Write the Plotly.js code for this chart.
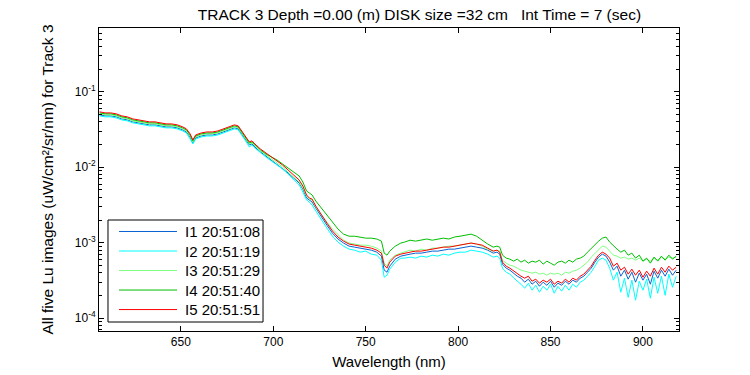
<!DOCTYPE html>
<html>
<head>
<meta charset="utf-8">
<script src="https://cdn.plot.ly/plotly-3.0.1.min.js"></script>
<style>html,body{margin:0;padding:0;background:#fff;}#chart{width:750px;height:375px;}</style>
</head>
<body>
<div id="chart"></div>
<script>
const wavelength = [
  606,609,612,615,618,621,624,627,630,633,636,639,642,645,648,651,
  653,655,656.5,658,
  661,664,667,670,673,676,679,
  681,683,685,687,688.5,690,
  693,696,699,702,705,708,711,714,
  716,718,719.5,721,723,
  726,729,732,735,738,741,744,747,750,753,756,
  758.5,760,761.5,763,
  766,769,
  771,774,777,780,783,786,789,792,795,798,801,804,807,810,813,816,819,
  821,822.5,824,826,828,
  830,832,834,836,838,840,842,844,846,848,850,852,854,856,858,860,862,864,866,868,870,
  872,874,876,878,880,882,884,886,888,890,892,894,896,898,900,902,904,906,908,910,912,914,916,918
];

const I1 = [
  0.0495,0.0480,0.0480,0.0466,0.0438,0.0425,0.0400,0.0388,0.0376,0.0365,0.0365,0.0354,0.0343,0.0343,0.0333,0.0313,
  0.0294,0.0252,0.0210,0.0245,
  0.0260,0.0268,0.0268,0.0277,0.0294,0.0313,0.0333,
  0.0323,0.0277,0.0230,0.0198,0.0204,0.0186,
  0.0160,0.0141,0.0125,0.01106,0.00979,0.00840,0.00720,0.00619,
  0.00515,0.00391,0.00368,0.00346,0.00288,
  0.00219,0.00171,0.00134,0.00112,0.000990,0.000901,0.000874,0.000848,0.000822,0.000797,0.000750,
  0.000664,0.000433,0.000407,0.000489,
  0.000606,0.000664,
  0.000684,0.000706,0.000728,0.000728,0.000750,0.000774,0.000774,0.000797,0.000822,0.000822,0.000848,0.000874,0.000901,0.000874,0.000848,0.000797,0.000728,
  0.000750,0.000706,0.000520,0.000460,0.000433,
  0.000395,0.000360,0.000339,0.000300,0.000329,0.000282,0.000309,0.000265,0.000300,0.000273,0.000309,0.000257,0.000291,0.000273,0.000309,0.000282,0.000319,0.000300,0.000339,0.000360,0.000407,
  0.000460,0.000553,0.000644,0.000706,0.000664,0.000553,0.000433,0.000489,0.000360,0.000433,0.000329,0.000407,0.000300,0.000395,0.000319,0.000383,0.000282,0.000420,0.000339,0.000433,0.000360,0.000446,0.000371,0.000433
];

const I2 = [
  0.0480,0.0466,0.0466,0.0452,0.0425,0.0412,0.0388,0.0376,0.0365,0.0354,0.0354,0.0343,0.0333,0.0333,0.0323,0.0303,
  0.0285,0.0237,0.0204,0.0237,
  0.0252,0.0260,0.0260,0.0268,0.0285,0.0303,0.0323,
  0.0313,0.0268,0.0224,0.0186,0.0198,0.0180,
  0.0155,0.0137,0.0121,0.01073,0.00950,0.00815,0.00699,0.00582,
  0.00470,0.00368,0.00346,0.00316,0.00263,
  0.00200,0.00156,0.00122,0.00102,0.000901,0.000822,0.000797,0.000750,0.000774,0.000706,0.000684,
  0.000587,0.000349,0.000371,0.000446,
  0.000553,0.000625,
  0.000625,0.000644,0.000625,0.000664,0.000644,0.000684,0.000664,0.000706,0.000684,0.000728,0.000750,0.000750,0.000797,0.000774,0.000750,0.000706,0.000644,
  0.000664,0.000625,0.000460,0.000407,0.000383,
  0.000339,0.000309,0.000282,0.000249,0.000291,0.000235,0.000273,0.000221,0.000265,0.000235,0.000282,0.000214,0.000265,0.000228,0.000273,0.000235,0.000282,0.000257,0.000300,0.000319,0.000360,
  0.000407,0.000489,0.000587,0.000625,0.000587,0.000460,0.000319,0.000407,0.000221,0.000339,0.000189,0.000319,0.000173,0.000309,0.000235,0.000329,0.000184,0.000349,0.000214,0.000360,0.000201,0.000383,0.000257,0.000360
];

const I3 = [
  0.0511,0.0495,0.0495,0.0480,0.0452,0.0438,0.0412,0.0400,0.0388,0.0376,0.0376,0.0365,0.0354,0.0354,0.0343,0.0323,
  0.0303,0.0260,0.0217,0.0252,
  0.0268,0.0277,0.0277,0.0285,0.0303,0.0323,0.0343,
  0.0333,0.0285,0.0237,0.0204,0.0210,0.0192,
  0.0165,0.0146,0.0129,0.01140,0.0101,0.00866,0.00743,0.00638,
  0.00531,0.00416,0.00379,0.00368,0.00297,
  0.00233,0.00188,0.00152,0.00126,0.00108,0.000990,0.000960,0.000929,0.000929,0.000901,0.000848,
  0.000774,0.000536,0.000489,0.000587,
  0.000684,0.000728,
  0.000750,0.000797,0.000774,0.000822,0.000797,0.000848,0.000848,0.000874,0.000901,0.000901,0.000929,0.000960,0.000990,0.000960,0.000901,0.000822,0.000774,
  0.000797,0.000774,0.000587,0.000536,0.000504,
  0.000489,0.000460,0.000433,0.000420,0.000407,0.000395,0.000407,0.000383,0.000395,0.000371,0.000395,0.000383,0.000395,0.000371,0.000407,0.000395,0.000420,0.000433,0.000460,0.000504,0.000553,
  0.000644,0.000728,0.000822,0.000901,0.000874,0.000774,0.000684,0.000664,0.000625,0.000644,0.000606,0.000625,0.000587,0.000625,0.000570,0.000606,0.000570,0.000625,0.000587,0.000644,0.000606,0.000644,0.000625,0.000644
];

const I4 = [
  0.0526,0.0511,0.0511,0.0495,0.0466,0.0452,0.0425,0.0412,0.0400,0.0388,0.0388,0.0376,0.0365,0.0365,0.0354,0.0333,
  0.0313,0.0268,0.0224,0.0260,
  0.0277,0.0285,0.0285,0.0294,0.0313,0.0333,0.0354,
  0.0343,0.0294,0.0245,0.0210,0.0217,0.0198,
  0.0170,0.0150,0.0137,0.0125,0.01106,0.00979,0.00866,0.00766,
  0.00638,0.00485,0.00456,0.00429,0.00357,
  0.00288,0.00240,0.00188,0.00152,0.00130,0.00122,0.00122,0.00119,0.00115,0.00115,0.00112,
  0.00105,0.000728,0.000684,0.000774,
  0.000901,0.000990,
  0.00102,0.00108,0.00105,0.00108,0.00112,0.00108,0.00112,0.00115,0.00112,0.00119,0.00122,0.00126,0.00130,0.00122,0.00108,0.000960,0.000874,
  0.000901,0.000874,0.000684,0.000625,0.000606,
  0.000570,0.000606,0.000553,0.000587,0.000536,0.000570,0.000553,0.000587,0.000520,0.000570,0.000536,0.000504,0.000553,0.000570,0.000536,0.000587,0.000553,0.000606,0.000625,0.000664,0.000750,
  0.000848,0.000929,0.00105,0.00115,0.00119,0.00102,0.000901,0.000822,0.000750,0.000797,0.000684,0.000728,0.000625,0.000684,0.000570,0.000625,0.000536,0.000644,0.000570,0.000664,0.000587,0.000684,0.000606,0.000664
];

const I5 = [
  0.0543,0.0526,0.0526,0.0511,0.0480,0.0466,0.0438,0.0425,0.0412,0.0400,0.0400,0.0388,0.0376,0.0376,0.0365,0.0343,
  0.0323,0.0277,0.0230,0.0268,
  0.0285,0.0294,0.0294,0.0303,0.0323,0.0343,0.0365,
  0.0354,0.0303,0.0252,0.0217,0.0224,0.0204,
  0.0175,0.0155,0.0137,0.0121,0.01073,0.00921,0.00790,0.00678,
  0.00564,0.00429,0.00391,0.00379,0.00306,
  0.00233,0.00182,0.00143,0.00119,0.00105,0.000960,0.000929,0.000901,0.000874,0.000848,0.000797,
  0.000728,0.000504,0.000460,0.000553,
  0.000664,0.000706,
  0.000728,0.000750,0.000774,0.000774,0.000797,0.000822,0.000848,0.000874,0.000874,0.000901,0.000929,0.000960,0.000990,0.000960,0.000929,0.000848,0.000774,
  0.000797,0.000750,0.000553,0.000489,0.000460,
  0.000420,0.000395,0.000360,0.000339,0.000360,0.000309,0.000329,0.000291,0.000319,0.000300,0.000329,0.000282,0.000309,0.000291,0.000329,0.000300,0.000339,0.000319,0.000360,0.000383,0.000433,
  0.000489,0.000587,0.000684,0.000750,0.000706,0.000625,0.000489,0.000536,0.000433,0.000474,0.000383,0.000446,0.000371,0.000433,0.000349,0.000420,0.000360,0.000460,0.000383,0.000474,0.000407,0.000489,0.000433,0.000474
];

const seriesNames = ['I1 20:51:08','I2 20:51:19','I3 20:51:29','I4 20:51:40','I5 20:51:51'];
const seriesColors = ['#0a64d2','#00ffff','#80ff80','#00be00','#ff0000'];
const seriesData = [I1, I2, I3, I4, I5];

const yTickVals = [1e-4, 1e-3, 1e-2, 1e-1];
const yTickText = ['10<sup>-4</sup>','10<sup>-3</sup>','10<sup>-2</sup>','10<sup>-1</sup>'];
const yMinorVals = [];
[1e-5,1e-4,1e-3,1e-2,1e-1].forEach(function(d){ for (let k=2;k<=9;k++) yMinorVals.push(d*k); });

const titleText = 'TRACK 3 Depth =0.00 (m) DISK size =32 cm &nbsp;&nbsp;Int Time = 7 (sec)';
const xTitle = 'Wavelength (nm)';
const yTitle = 'All five Lu images (uW/cm²/sr/nm) for Track 3';

const FONT = 'Liberation Sans, Arial, sans-serif';

const traces = seriesData.map(function(arr, i){
  return {
    x: wavelength, y: arr, type: 'scatter', mode: 'lines',
    name: seriesNames[i], showlegend: false,
    line: {color: seriesColors[i], width: 1}
  };
});

// Legend box drawn in the axes' paper frame (MATLAB-style legend with long sample lines)
const legBox = {x0: 0.0155, x1: 0.2828, y0: 0.0297, y1: 0.3663};
const legRowTop = 0.3284, legRowStep = 0.0644;
const legLineX0 = 0.0345, legLineX1 = 0.1345, legTextX = 0.1448;

const shapes = [{
  type: 'rect', xref: 'paper', yref: 'paper',
  x0: legBox.x0, x1: legBox.x1, y0: legBox.y0, y1: legBox.y1,
  fillcolor: '#fff', line: {color: '#000', width: 1}, layer: 'above'
}];
const annotations = [];
seriesNames.forEach(function(nm, i){
  const yy = legRowTop - i * legRowStep;
  shapes.push({type: 'line', xref: 'paper', yref: 'paper', x0: legLineX0, x1: legLineX1, y0: yy, y1: yy,
               line: {color: seriesColors[i], width: 1}, layer: 'above'});
  annotations.push({xref: 'paper', yref: 'paper', x: legTextX, y: yy, xanchor: 'left', yanchor: 'middle',
                    text: nm, showarrow: false, font: {family: FONT, size: 15, color: '#000'}});
});

const layout = {
  width: 750, height: 375,
  margin: {l: 99, r: 71, t: 28, b: 44},
  paper_bgcolor: '#fff', plot_bgcolor: '#fff',
  font: {family: FONT, size: 12, color: '#000'},
  showlegend: false,
  title: {text: titleText, font: {family: FONT, size: 15.5, color: '#000'},
          xref: 'container', x: 0.5593, xanchor: 'center', yref: 'container', y: 0.962, yanchor: 'middle'},
  xaxis: {
    range: [605.7, 919.5], type: 'linear',
    tickvals: [650,700,750,800,850,900],
    ticks: 'inside', ticklen: 5, tickwidth: 1, tickcolor: '#000',
    showline: true, linecolor: '#000', linewidth: 1, mirror: 'ticks',
    showgrid: false, zeroline: false,
    tickfont: {family: FONT, size: 12, color: '#000'},
    title: {text: xTitle, font: {family: FONT, size: 15, color: '#000'}, standoff: 8}
  },
  yaxis: {
    type: 'log', range: [-4.17, -0.154],
    tickmode: 'array', tickvals: yTickVals, ticktext: yTickText,
    ticks: 'inside', ticklen: 5, tickwidth: 1, tickcolor: '#000',
    minor: {tickmode: 'array', tickvals: yMinorVals, ticks: 'inside', ticklen: 3, tickcolor: '#000', showgrid: false},
    showline: true, linecolor: '#000', linewidth: 1, mirror: 'ticks',
    showgrid: false, zeroline: false,
    tickfont: {family: FONT, size: 12, color: '#000'},
    title: {text: yTitle, font: {family: FONT, size: 15.5, color: '#000'}, standoff: 17}
  },
  shapes: shapes,
  annotations: annotations
};

Plotly.newPlot('chart', traces, layout, {staticPlot: true, displayModeBar: false});
</script>
</body>
</html>
